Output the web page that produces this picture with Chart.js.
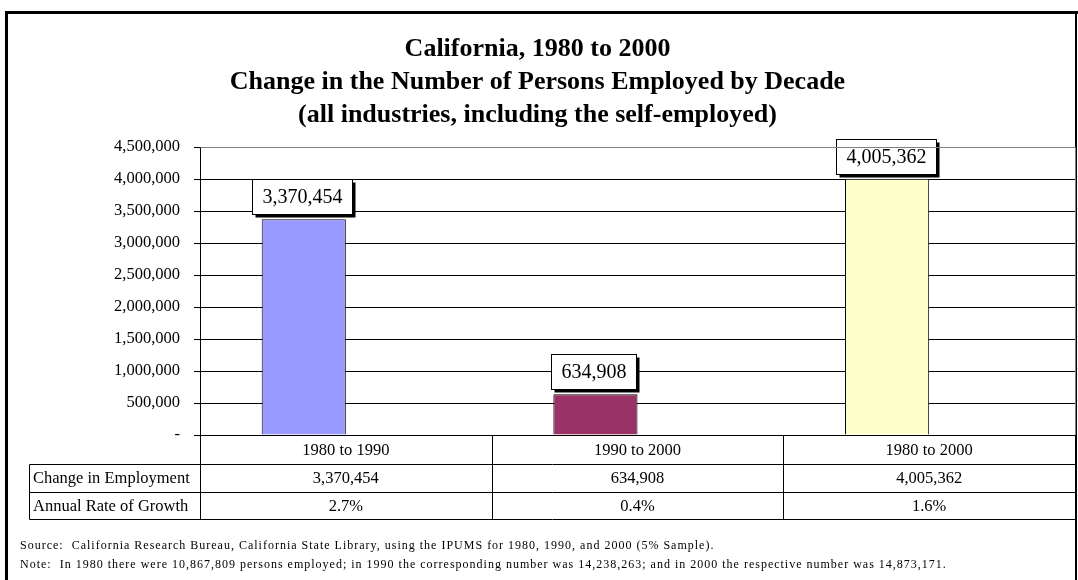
<!DOCTYPE html>
<html>
<head>
<meta charset="utf-8">
<script src="https://cdn.jsdelivr.net/npm/chart.js@4.4.1/dist/chart.umd.min.js"></script>
<style>
  html, body { margin: 0; padding: 0; background: #fff; }
  #wrap { width: 1078px; height: 580px; position: relative; }
</style>
</head>
<body>
<div id="wrap"><canvas id="c" width="1078" height="580"></canvas></div>
<script>
// Periods compared
const categories = ['1980 to 1990', '1990 to 2000', '1980 to 2000'];
// Net change in persons employed over each period
const employmentChange = [3370454, 634908, 4005362];
// Annual rate of growth over each period
const growthRate = [0.027, 0.004, 0.016];
// Row headings of the data table under the axis
const rowLabels = ['Change in Employment', 'Annual Rate of Growth'];
// Value axis range
const yMax = 4500000;
const yStep = 500000;

const titleLines = [
  'California, 1980 to 2000',
  'Change in the Number of Persons Employed by Decade',
  '(all industries, including the self-employed)'
];
const footNotes = [
  'Source:  California Research Bureau, California State Library, using the IPUMS for 1980, 1990, and 2000 (5% Sample).',
  'Note:  In 1980 there were 10,867,809 persons employed; in 1990 the corresponding number was 14,238,263; and in 2000 the respective number was 14,873,171.'
];

const barColors = ['#9999FF', '#993366', '#FFFFCC'];
const SERIF = '"Liberation Serif", "Times New Roman", Times, serif';

const fmtInt = v => v.toLocaleString('en-US');
const fmtPct = v => (v * 100).toFixed(1) + '%';

// White page with the black figure frame
const framePlugin = {
  id: 'frame',
  beforeDraw(chart) {
    const ctx = chart.ctx;
    ctx.save();
    ctx.fillStyle = '#fff';
    ctx.fillRect(0, 0, chart.width, chart.height);
    ctx.strokeStyle = '#000';
    ctx.lineWidth = 3;
    ctx.beginPath();
    ctx.moveTo(6.5, 600);
    ctx.lineTo(6.5, 12.5);
    ctx.lineTo(1078, 12.5);
    ctx.stroke();
    ctx.lineWidth = 2;
    ctx.beginPath();
    ctx.moveTo(1076, 12);
    ctx.lineTo(1076, 600);
    ctx.stroke();
    ctx.restore();
  }
};

// Boxed value labels with a drop shadow above each employment bar
const valueBoxPlugin = {
  id: 'valueBoxes',
  afterDatasetsDraw(chart) {
    const ctx = chart.ctx;
    const meta = chart.getDatasetMeta(0);
    ctx.save();
    ctx.font = '20px ' + SERIF;
    ctx.textAlign = 'center';
    ctx.textBaseline = 'middle';
    meta.data.forEach((bar, i) => {
      const text = fmtInt(employmentChange[i]);
      const w = Math.round(ctx.measureText(text).width + 20);
      const h = 35;
      const cx = bar.x - 1.5;
      const left = Math.round(cx - w / 2) + 0.5;
      const top = Math.round(bar.y - 5 - h) + 0.5;
      ctx.fillStyle = '#000';
      ctx.fillRect(left + 3, top + 3, w, h);
      ctx.fillStyle = '#fff';
      ctx.fillRect(left, top, w, h);
      ctx.strokeStyle = '#000';
      ctx.lineWidth = 1;
      ctx.strokeRect(left, top, w, h);
      ctx.fillStyle = '#000';
      ctx.fillText(text, left + w / 2, top + h / 2 + 1);
    });
    ctx.restore();
  }
};

// Plot-area outline and the data table beneath the category axis
const tablePlugin = {
  id: 'dataTable',
  afterDraw(chart) {
    const { ctx, chartArea: a, scales: { x } } = chart;
    const half = (x.getPixelForValue(1) - x.getPixelForValue(0)) / 2;
    const edges = [x.getPixelForValue(0) - half].concat(categories.map((_, i) => x.getPixelForValue(i) + half));
    const rows = [a.bottom, a.bottom + 29, a.bottom + 57, a.bottom + 84];
    const labelLeft = 29.5;
    const px = v => Math.round(v) + 0.5;

    ctx.save();
    // plot area outline (top and right)
    ctx.strokeStyle = '#808080';
    ctx.lineWidth = 1;
    ctx.beginPath();
    ctx.moveTo(px(a.left), px(a.top));
    ctx.lineTo(px(a.right), px(a.top));
    ctx.lineTo(px(a.right), px(a.bottom));
    ctx.stroke();

    // table rules
    ctx.strokeStyle = '#000';
    ctx.beginPath();
    edges.forEach(e => { ctx.moveTo(px(e), rows[0]); ctx.lineTo(px(e), rows[3]); });
    ctx.moveTo(labelLeft, px(rows[1])); ctx.lineTo(labelLeft, px(rows[3]));
    for (let r = 1; r <= 3; r++) {
      ctx.moveTo(labelLeft, px(rows[r]));
      ctx.lineTo(px(edges[edges.length - 1]), px(rows[r]));
    }
    ctx.stroke();

    // table text
    ctx.fillStyle = '#000';
    ctx.font = '16.5px ' + SERIF;
    ctx.textBaseline = 'middle';
    const series = [employmentChange.map(fmtInt), growthRate.map(fmtPct)];
    series.forEach((vals, r) => {
      const cy = (rows[r + 1] + rows[r + 2]) / 2 + 1;
      ctx.textAlign = 'left';
      ctx.fillText(rowLabels[r], labelLeft + 3.5, cy);
      ctx.textAlign = 'center';
      vals.forEach((t, i) => ctx.fillText(t, (edges[i] + edges[i + 1]) / 2, cy));
    });

    // source and note lines
    ctx.font = '12px ' + SERIF;
    ctx.letterSpacing = '1px';
    ctx.textAlign = 'left';
    ctx.fillText(footNotes[0], 20, 546);
    ctx.fillText(footNotes[1], 20, 565);
    ctx.restore();
  }
};

new Chart(document.getElementById('c'), {
  type: 'bar',
  data: {
    labels: categories,
    datasets: [
      {
        label: rowLabels[0],
        data: employmentChange,
        backgroundColor: barColors,
        borderColor: '#000',
        borderWidth: 1,
        barPercentage: 1,
        categoryPercentage: 0.577
      },
      {
        // growth rates share the value axis, so these bars stay flat on it
        label: rowLabels[1],
        data: growthRate,
        backgroundColor: 'rgba(0,0,0,0)',
        borderWidth: 0,
        barPercentage: 1,
        categoryPercentage: 0.577
      }
    ]
  },
  options: {
    responsive: false,
    animation: false,
    devicePixelRatio: 1,
    layout: { padding: { top: 16, right: 3, bottom: 116, left: 0 } },
    plugins: {
      legend: { display: false },
      tooltip: { enabled: false },
      title: {
        display: true,
        text: titleLines,
        color: '#000',
        font: { family: SERIF, size: 26, weight: 'bold', lineHeight: 1.27 },
        padding: { top: 17, bottom: 15 }
      }
    },
    scales: {
      x: {
        grid: { display: false, drawTicks: false },
        border: { display: true, color: '#000', width: 1 },
        ticks: { color: '#000', font: { family: SERIF, size: 16.5 }, padding: 6 },
        afterFit(scale) { scale.height = 29; }
      },
      y: {
        min: 0,
        max: yMax,
        grid: { color: '#000', lineWidth: 1, tickLength: 6, tickColor: '#000' },
        border: { display: true, color: '#000', width: 1 },
        ticks: {
          stepSize: yStep,
          color: '#000',
          padding: 14,
          font: { family: SERIF, size: 16.5 },
          callback: v => (v === 0 ? '-' : fmtInt(v))
        },
        afterFit(scale) { scale.width = 200; }
      }
    }
  },
  plugins: [framePlugin, valueBoxPlugin, tablePlugin]
});
</script>
</body>
</html>
